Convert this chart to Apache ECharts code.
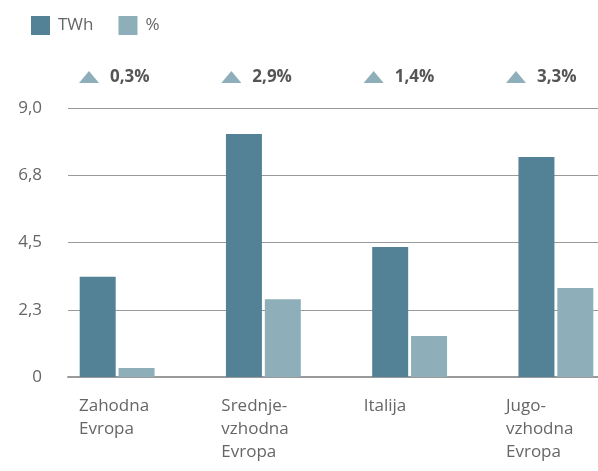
<!DOCTYPE html>
<html><head><meta charset="utf-8">
<script src="https://cdn.jsdelivr.net/npm/echarts@6/dist/echarts.min.js"></script>
<style>html,body{margin:0;padding:0;background:#fff}#c{width:598px;height:471px}</style>
</head><body><div id="c"></div>
<script>
const categories = ['Zahodna\nEvropa', 'Srednje-\nvzhodna\nEvropa', 'Italija', 'Jugo-\nvzhodna\nEvropa'];
const twhValues = [3.35, 8.13, 4.35, 7.36];
const pctValues = [0.3, 2.6, 1.37, 2.98];
const growthLabels = ['0,3%', '2,9%', '1,4%', '3,3%'];
const yTickLabels = ['0', '2,3', '4,5', '6,8', '9,0'];
const seriesNames = ['TWh', '%'];

(function () {
const FONT = 'Open Sans';
const FS = 17;
const C1 = '#538297', C2 = '#8eafba', TXT = '#666';
const triSvg = 'data:image/svg+xml;utf8,' + encodeURIComponent('<svg xmlns="http://www.w3.org/2000/svg" width="20" height="12"><polygon points="10,0 20,12 0,12" fill="#8eafba"/></svg>');

const chart = echarts.init(document.getElementById('c'), null, {renderer: 'canvas'});
const gTop = 108, gHeight = 269;
chart.setOption({
  animation: false,
  textStyle: {fontFamily: FONT},
  legend: {
    left: 31, top: 16, padding: 0, itemWidth: 19, itemHeight: 19, itemGap: 25,
    icon: 'rect',
    textStyle: {fontFamily: FONT, fontSize: FS, color: TXT, padding: [0, 0, 0, 3]},
    data: seriesNames
  },
  grid: [
    {left: 44, right: -31, top: gTop, height: gHeight, outerBoundsMode: 'none'},
    {left: 68, right: 0, top: gTop, height: gHeight, outerBoundsMode: 'none'},
    {left: 79, right: 92, top: gTop, height: gHeight, outerBoundsMode: 'none'}
  ],
  xAxis: [
    {type: 'category', gridIndex: 0, data: categories, axisLine: {show: false}, axisTick: {show: false}, axisLabel: {show: false}},
    {type: 'category', gridIndex: 1, data: categories, axisLine: {show: true, lineStyle: {color: '#9a9a9a', width: 2}}, axisTick: {show: false}, axisLabel: {show: false}},
    {type: 'category', gridIndex: 2, data: categories, boundaryGap: false, position: 'bottom',
      axisLine: {show: false}, axisTick: {show: false},
      axisLabel: {show: true, align: 'left', verticalAlign: 'top', margin: 18, fontFamily: FONT, fontSize: FS, color: TXT, lineHeight: 23, interval: 0}},
    {type: 'category', gridIndex: 2, data: growthLabels, boundaryGap: false, position: 'top',
      axisLine: {show: false}, axisTick: {show: false},
      axisLabel: {show: true, align: 'left', verticalAlign: 'middle', margin: 31, interval: 0,
        formatter: function (v) { return '{tri| }{b|' + v + '}'; },
        rich: {
          tri: {width: 20, height: 12, backgroundColor: {image: triSvg}},
          b: {fontFamily: FONT, fontWeight: 'bold', fontSize: FS, color: '#555', padding: [0, 0, 0, 11]}
        }}}
  ],
  yAxis: [
    {type: 'value', gridIndex: 0, min: 0, max: 9, interval: 2.25, axisLabel: {show: false}, splitLine: {show: false}, axisLine: {show: false}, axisTick: {show: false}},
    {type: 'value', gridIndex: 1, min: 0, max: 9, interval: 2.25,
      axisLabel: {show: true, margin: 26, fontFamily: FONT, fontSize: FS, color: TXT,
        formatter: function (v, i) { return yTickLabels[i]; }},
      splitLine: {show: true, lineStyle: {color: '#999', width: 1}}, axisLine: {show: false}, axisTick: {show: false}},
    {type: 'value', gridIndex: 2, min: 0, max: 9, show: false}
  ],
  series: [
    {name: seriesNames[0], type: 'bar', xAxisIndex: 0, yAxisIndex: 0, data: twhValues, barWidth: 36, barGap: '8%', itemStyle: {color: C1}, z: 3},
    {name: seriesNames[1], type: 'bar', xAxisIndex: 0, yAxisIndex: 0, data: pctValues, barWidth: 36, barGap: '8%', itemStyle: {color: C2}, z: 3}
  ]
});
})();
</script></body></html>
